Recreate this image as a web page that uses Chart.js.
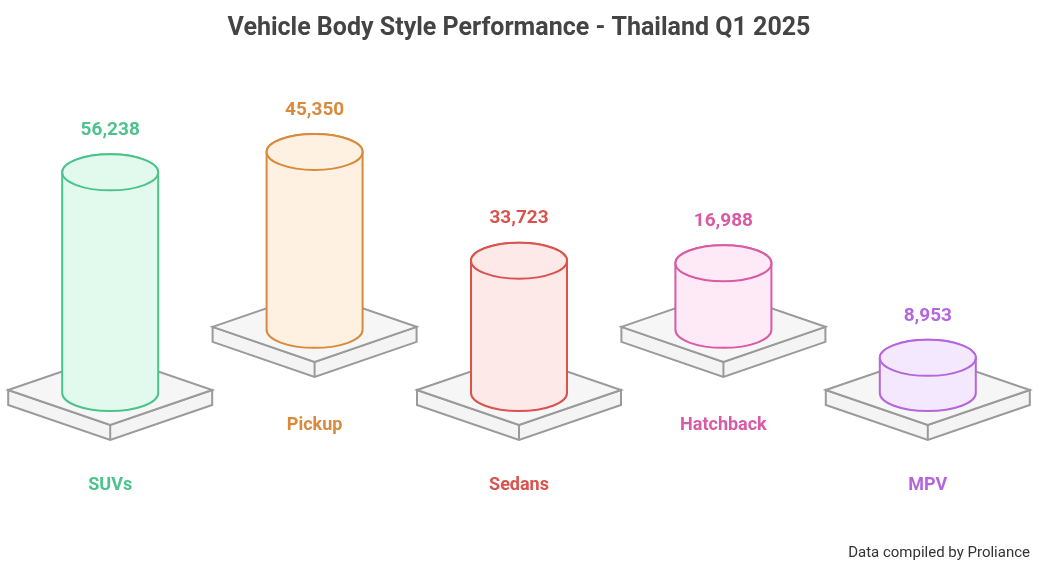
<!DOCTYPE html>
<html>
<head>
<meta charset="utf-8">
<script src="https://cdn.jsdelivr.net/npm/chart.js@4"></script>
<style>
  html, body { margin: 0; padding: 0; background: #fff; }
  #wrap { width: 1043px; height: 570px; position: relative; }
</style>
</head>
<body>
<div id="wrap"><canvas id="chart"></canvas></div>
<script>
const categories = ["SUVs", "Pickup", "Sedans", "Hatchback", "MPV"];
const frontValues = [56238, null, 33723, null, 8953];
const backValues = [null, 45350, null, 16988, null];
const strokeColors = ["#4cc38a", "#d98a3c", "#d9534f", "#d95aa5", "#b566dd"];
const fillColors = ["#e2f9ee", "#fff1e2", "#fde9e7", "#fdeaf6", "#f3e8fd"];

const ctx = document.getElementById("chart").getContext("2d");

// Dibuja plataformas y cilindros a partir de las barras
const cylinders = {
  id: "cylinders",
  afterDatasetsDraw(chart) {
    const c = chart.ctx;
    const items = [];
    chart.data.datasets.forEach((ds, di) => {
      chart.getDatasetMeta(di).data.forEach((bar, i) => {
        if (ds.data[i] == null) return;
        items.push({ bar, i, back: di === 1, value: ds.data[i] });
      });
    });
    // fila de atrás primero
    items.sort((a, b) => (b.back - a.back));
    items.forEach(({ bar, i, back, value }) => {
      const cx = bar.x, top = bar.y, base = bar.base;
      const rx = 48, ry = 18;
      // plataforma
      const py = base - 3, hw = 102, hh = 35, th = 15;
      c.save();
      c.lineWidth = 2;
      c.strokeStyle = "#9a9a9a";
      c.fillStyle = "#f4f4f4";
      c.beginPath();
      c.moveTo(cx - hw, py); c.lineTo(cx, py + hh); c.lineTo(cx + hw, py);
      c.lineTo(cx + hw, py + th); c.lineTo(cx, py + hh + th); c.lineTo(cx - hw, py + th);
      c.closePath(); c.fill(); c.stroke();
      c.beginPath();
      c.moveTo(cx - hw, py); c.lineTo(cx, py - hh); c.lineTo(cx + hw, py); c.lineTo(cx, py + hh);
      c.closePath(); c.fillStyle = "#f6f6f6"; c.fill(); c.stroke();
      c.beginPath(); c.moveTo(cx, py + hh); c.lineTo(cx, py + hh + th); c.stroke();
      // cilindro
      c.strokeStyle = strokeColors[i];
      c.fillStyle = fillColors[i];
      c.beginPath();
      c.moveTo(cx - rx, top);
      c.lineTo(cx - rx, base);
      c.ellipse(cx, base, rx, ry, 0, Math.PI, 0, true);
      c.lineTo(cx + rx, top);
      c.ellipse(cx, top, rx, ry, 0, 0, Math.PI, true);
      c.closePath(); c.fill(); c.stroke();
      c.beginPath();
      c.ellipse(cx, top, rx, ry, 0, 0, Math.PI * 2);
      c.fillStyle = fillColors[i]; c.fill(); c.stroke();
      // valores
      c.fillStyle = strokeColors[i];
      c.font = "bold 19px Roboto, 'Noto Sans', sans-serif";
      c.textAlign = "center";
      c.textBaseline = "middle";
      c.fillText(value.toLocaleString("en-US"), cx, top - 42);
      // etiquetas
      c.font = "bold 18px Roboto, 'Noto Sans', sans-serif";
      c.fillText(categories[i], cx, back ? 425 : 485);
      c.restore();
    });
    c.save();
    c.fillStyle = "#333";
    c.font = "15px Roboto, sans-serif";
    c.textAlign = "right";
    c.textBaseline = "middle";
    c.fillText("Data compiled by Proliance", 1030, 553);
    c.restore();
  }
};

new Chart(ctx, {
  type: "bar",
  data: {
    labels: categories,
    datasets: [
      { data: frontValues, yAxisID: "y", backgroundColor: "rgba(0,0,0,0)", grouped: false, skipNull: true },
      { data: backValues, yAxisID: "y2", backgroundColor: "rgba(0,0,0,0)", grouped: false, skipNull: true }
    ]
  },
  options: {
    responsive: true,
    maintainAspectRatio: false,
    animation: false,
    layout: { padding: { top: 0, bottom: 177, left: 8, right: 13 } },
    plugins: {
      legend: { display: false },
      tooltip: { enabled: false },
      title: {
        display: true,
        text: "Vehicle Body Style Performance - Thailand Q1 2025",
        color: "#444",
        font: { size: 25, weight: "bold", family: "Roboto, 'Noto Sans', sans-serif" },
        padding: { top: 14, bottom: 41 }
      }
    },
    scales: {
      x: { display: false, offset: true },
      y: { display: false, min: 0, max: 78500 },
      y2: { display: false, min: -16090, max: 62410 }
    },
    datasets: { bar: { categoryPercentage: 1, barPercentage: 0.47 } }
  },
  plugins: [cylinders]
});
</script>
</body>
</html>
